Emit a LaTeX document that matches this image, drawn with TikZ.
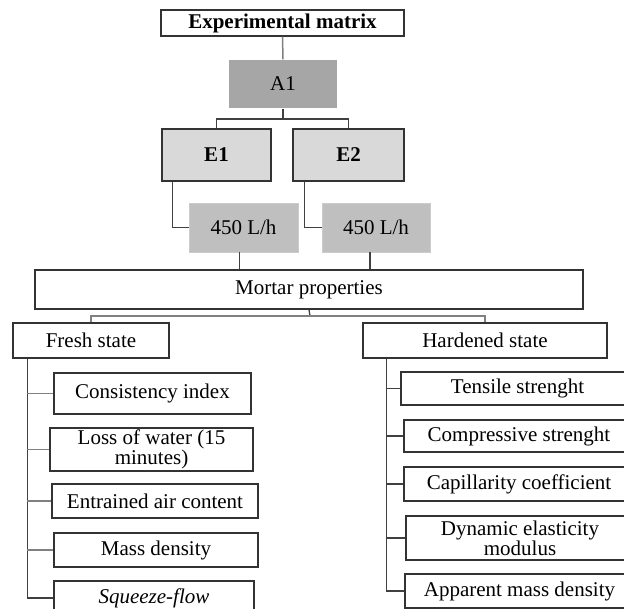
\documentclass[tikz,border=0pt]{standalone}
\usepackage{fontspec}
\setmainfont{Liberation Serif}
\usetikzlibrary{calc}
\definecolor{bordc}{HTML}{333333}
\definecolor{linec}{HTML}{404040}
\definecolor{lgray}{HTML}{808080}
\definecolor{aone}{HTML}{A6A6A6}
\definecolor{eone}{HTML}{D9D9D9}
\definecolor{flow}{HTML}{BFBFBF}
\tikzset{
  box/.style={draw=bordc, line width=1.2pt, fill=white, inner sep=0pt, align=center,
    font=\fontsize{21}{20}\selectfont},
  abox/.style={box, draw=none, fill=aone},
  ebox/.style={box, fill=eone, font=\fontsize{21}{20}\selectfont\bfseries},
  fbox/.style={box, draw=flow!80!white, line width=0.8pt, fill=flow},
  conn/.style={draw=linec, line width=1.3pt},
  gconn/.style={draw=lgray, line width=1.5pt},
}
\begin{document}
\begin{tikzpicture}[x=1pt, y=-1pt]
\useasboundingbox (0,0) rectangle (624,609);
\clip (0,0) rectangle (624,609);

% top chain
\node[box, font=\fontsize{21}{20}\selectfont\bfseries, minimum width=243, minimum height=26] (exp) at (282.5,23) {Experimental matrix};
\node[abox, minimum width=108, minimum height=48] (a1) at (283,84) {A1};
\node[ebox, minimum width=109, minimum height=52] (e1) at (216.5,155) {E1};
\node[ebox, minimum width=111, minimum height=52] (e2) at (348.5,155) {E2};
\node[fbox, minimum width=109, minimum height=49] (f1) at (243.5,227.5) {450 L/h};
\node[fbox, minimum width=108, minimum height=49] (f2) at (376,227.5) {450 L/h};
\node[box, minimum width=548, minimum height=39] (mortar) at (309,289.5) {Mortar properties};
\node[box, minimum width=156, minimum height=35] (fresh) at (91,340.5) {Fresh state};
\node[box, minimum width=244, minimum height=35] (hard) at (485,340.5) {Hardened state};

% fresh items
\node[box, minimum width=197, minimum height=41] (c1) at (152.5,393.5) {Consistency index};
\node[box, minimum width=203, minimum height=43] (c2) at (151.5,449.5) {Loss of water (15\\minutes)};
\node[box, minimum width=206, minimum height=34] (c3) at (155,501) {Entrained air content};
\node[box, minimum width=204, minimum height=34] (c4) at (156,550) {Mass density};
\node[box, minimum width=200, minimum height=34] (c5) at (154,598) {\itshape Squeeze-flow};

% hardened items
\node[box, minimum width=233, minimum height=33] (h1) at (517.5,388.5) {Tensile strenght};
\node[box, minimum width=230, minimum height=32] (h2) at (519,436) {Compressive strenght};
\node[box, minimum width=230, minimum height=34] (h3) at (519,484) {Capillarity coefficient};
\node[box, minimum width=228, minimum height=44] (h4) at (520,538) {Dynamic elasticity\\modulus};
\node[box, minimum width=229, minimum height=34] (h5) at (519.5,591) {Apparent mass density};

% connectors
\draw[gconn] (exp.south) -- (a1.north);
\coordinate (bar1) at (283,119);
\draw[conn] (a1.south) -- (bar1);
\draw[conn] (e1.north) |- (bar1) -| (e2.north);
\draw[conn] ([xshift=11]e1.south west) |- (f1.west);
\draw[conn] ([xshift=12]e2.south west) |- (f2.west);
\draw[conn] ([xshift=-4]f1.south) -- ([xshift=-4]f1.south |- mortar.north);
\draw[conn] ([xshift=-6]f2.south) -- ([xshift=-6]f2.south |- mortar.north);
\coordinate (bar2) at (310,316);
\draw[conn] (mortar.south) -- (bar2);
\draw[gconn] (fresh.north) |- (bar2) -| (hard.north);

\coordinate (fr) at ([xshift=15]fresh.south west);
\draw[conn] (fr) |- (c5.west);
\foreach \n in {c1,c2,c3,c4} \draw[gconn] (\n.west -| fr) -- (\n.west);

\coordinate (hr) at ([xshift=24]hard.south west);
\draw[conn] (hr) |- (h5.west);
\foreach \n in {h1,h2,h3,h4} \draw[conn] (\n.west -| hr) -- (\n.west);
\end{tikzpicture}
\end{document}
